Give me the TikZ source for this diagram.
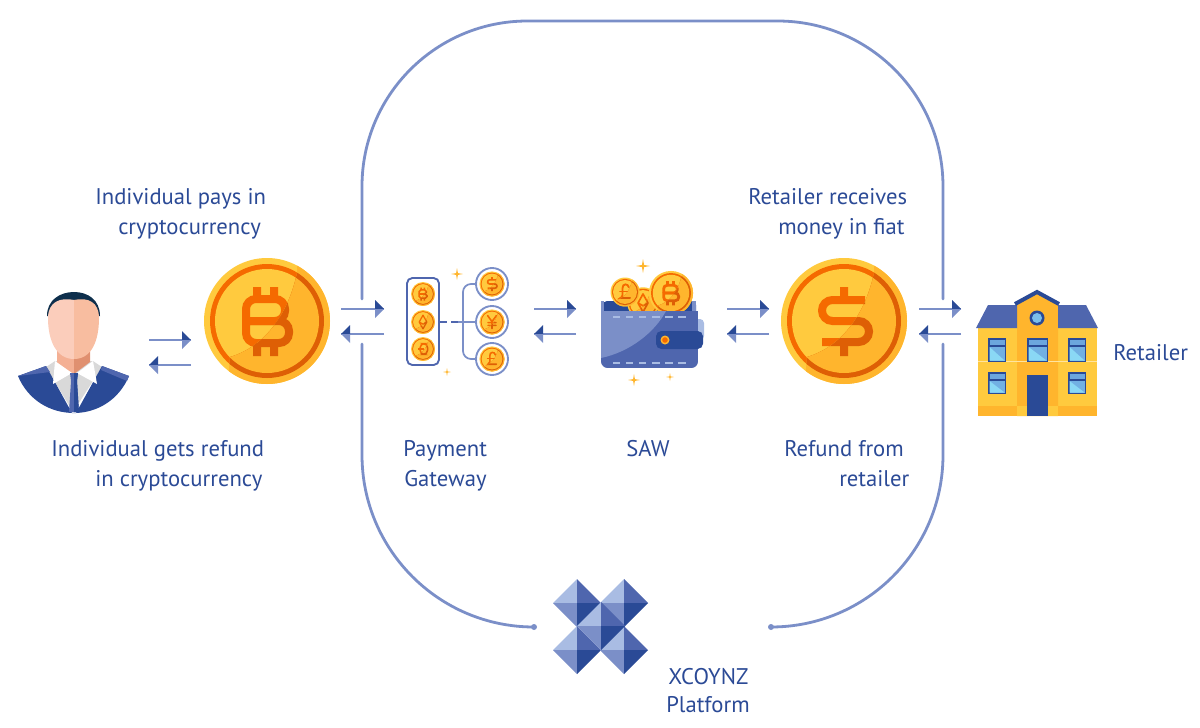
\documentclass[tikz,border=0pt]{standalone}
\usepackage{fontspec}
\setmainfont{PT Sans}
\definecolor{navy}{HTML}{2A4A96}
\definecolor{midblue}{HTML}{4F66AE}
\definecolor{softblue}{HTML}{7B8FC8}
\definecolor{paleblue}{HTML}{A9BCE3}
\definecolor{txt}{HTML}{2B4A96}
\definecolor{yel}{HTML}{FFCA3E}
\definecolor{yeld}{HTML}{FFB52D}
\definecolor{org}{HTML}{F56A00}
\definecolor{orgd}{HTML}{DE5F05}
\definecolor{hair}{HTML}{0E2F4C}
\definecolor{skinl}{HTML}{FBCDBB}
\definecolor{skinr}{HTML}{F8BDA0}
\definecolor{neckl}{HTML}{F4B094}
\definecolor{neckr}{HTML}{E09070}
\definecolor{glass}{HTML}{8AD8F5}
\definecolor{glassd}{HTML}{6CA6DE}
\tikzset{
  lbl/.style={font=\fontsize{17pt}{18pt}\selectfont,text=txt,anchor=base west,inner sep=0pt},
  platform/.style={draw=softblue,line width=2.1pt,rounded corners=#1,line cap=round},
  flowline/.style={draw=softblue,line width=2.2pt},
  endpoint/.style={fill=softblue,draw=none,circle,minimum size=4.5pt,inner sep=0pt},
}
% coin parts, in units of a coin of radius 63
\newcommand\glyphB{%
  \draw[line width=\cs*6pt,rounded corners=\cs*7.5pt] (-21,0) -- (18,0) -- (18,-22) -- (-21,-22) -- (-21,0);
  \draw[line width=\cs*6pt,rounded corners=\cs*7.5pt] (-21,-2) -- (-21,22) -- (22,22) -- (22,0) -- (-18,0);
  \fill (-14,-34) rectangle (-6,-22) (3,-34) rectangle (11,-22) (-14,22) rectangle (-6,35) (3,22) rectangle (11,35);}
\newcommand\glyphS{%
  \draw[line width=\cs*6pt,rounded corners=\cs*7.8pt] (21,-21) -- (-22,-21) -- (-22,0) -- (25,0) -- (25,21) -- (-22,21);
  \fill (-4,-34) rectangle (4,-21) (-4,21) rectangle (4,35);}
\newcommand\glyphP{%
  \draw[line width=\cs*6pt,line cap=round] (17,-20) .. controls (14,-38) and (-12,-38) .. (-11,-16) -- (-11,14) .. controls (-11,20) and (-15,24) .. (-20,26) -- (22,26);
  \draw[line width=\cs*6pt,line cap=round] (-22,-2) -- (10,-2);}
\newcommand\glyphY{%
  \draw[line width=\cs*6pt,line cap=round] (-22,-32) -- (0,-2) -- (22,-32) (0,-2) -- (0,33) (-20,3) -- (20,3) (-20,17) -- (20,17);}
\newcommand\glyphE{%
  \draw[line width=\cs*5pt,line join=round] (0,-36) -- (20,0) -- (0,36) -- (-20,0) -- cycle (-20,0) -- (0,11) -- (20,0);}
\newcommand\glyphD{%
  \draw[line width=\cs*6pt,rounded corners=\cs*16pt] (-15,-28) -- (24,-28) -- (24,28) -- (-15,28) -- cycle;
  \draw[line width=\cs*6pt] (-26,0) -- (6,0);}
\newcommand\coin[4]{%
  \begin{scope}[shift={(#1,#2)},scale=#3]
    \def\cs{#3}
    \fill[yel] (0,0) circle[radius=63];
    \fill[org] (0,0) circle[radius=57];
    \fill[yel] (0,0) circle[radius=52];
    \begin{scope}[draw=org,fill=org]#4\end{scope}
    \begin{scope}
      \clip (30,-66) -- (30,-48) .. controls (22,-10) and (0,25) .. (-37,36) -- (-40,70) -- (70,70) -- (70,-66) -- cycle;
      \fill[yeld] (0,0) circle[radius=63];
      \fill[orgd] (0,0) circle[radius=57];
      \fill[yeld] (0,0) circle[radius=52];
      \begin{scope}[draw=orgd,fill=orgd]#4\end{scope}
    \end{scope}
  \end{scope}}
\newcommand\sparkle[3]{%
  \fill[yeld] (#1-#3,#2) -- (#1-0.15*#3,#2-0.15*#3) -- (#1,#2-#3) -- (#1+0.15*#3,#2-0.15*#3) -- (#1+#3,#2) -- (#1+0.15*#3,#2+0.15*#3) -- (#1,#2+#3) -- (#1-0.15*#3,#2+0.15*#3) -- cycle;}
\newcommand\pyramid[2]{%
  \begin{scope}[shift={(#1,#2)}]
    \fill[paleblue] (-24,0) -- (0,-24) -- (0,0) -- cycle;
    \fill[midblue] (24,0) -- (0,-24) -- (0,0) -- cycle;
    \fill[softblue] (-24,0) -- (0,24) -- (0,0) -- cycle;
    \fill[navy] (24,0) -- (0,24) -- (0,0) -- cycle;
  \end{scope}}
\newcommand\rarr[2]{%
  \draw[flowline] (#1) -- (#2);
  \fill[navy] (#2) -- ++(-9,-9) -- ++(0,9) -- cycle;
  \fill[softblue] (#2) -- ++(-9,9) -- ++(0,-9) -- cycle;}
\newcommand\larr[2]{%
  \draw[flowline] (#1) -- (#2);
  \fill[navy] (#2) -- ++(9,-9) -- ++(0,9) -- cycle;
  \fill[softblue] (#2) -- ++(9,9) -- ++(0,-9) -- cycle;}
\newcommand\winda[4]{% window x0 y0 x1 y1
  \fill[navy] (#1,#2) rectangle (#3,#4);
  \fill[glassd] (#1+1.5,#2+1.5) rectangle (#3-1.5,#2+7);
  \fill[glassd!80!glass] (#1+1.5,#2+9) rectangle (#3-1.5,#4-1.5);
  \fill[glass] (#1+1.5,#2+9) -- (#3-1.5,#4-1.5) -- (#1+1.5,#4-1.5) -- cycle;}
\begin{document}
\begin{tikzpicture}[x=0.75pt,y=-0.75pt]
\useasboundingbox (0,0) rectangle (1200,728);
% ---- platform outline
\coordinate (tl) at (362,21);
\coordinate (tr) at (943,21);
\coordinate (lu) at (362,299);
\coordinate (ll) at (362,344);
\coordinate (ru) at (943,299);
\coordinate (rl) at (943,344);
\coordinate (bl) at (362,627);
\coordinate (br) at (943,627);
\node[endpoint] (pl) at (534,627) {};
\node[endpoint] (pr) at (771,627) {};
\draw[platform=124pt] (lu) -- (tl) -- (tr) -- (ru);
\draw[platform=129pt] (ll) -- (bl) -- (pl.center);
\draw[platform=129pt] (rl) -- (br) -- (pr.center);
% ---- arrows
\foreach \n/\xa/\xb/\ya/\yb in {a/149/191/340/365,b/341/384/309/334,c/534/576/309/334,d/727/769/309/334,e/919/961/309/334}{
  \coordinate (\n1) at (\xa,\ya);
  \coordinate (\n2) at (\xb,\ya);
  \coordinate (\n3) at (\xb,\yb);
  \coordinate (\n4) at (\xa,\yb);
  \rarr{\n1}{\n2}
  \larr{\n3}{\n4}
}
% ---- person
\fill[lightgray!60] (46,367) -- (55,361) -- (93,361) -- (102,367) -- (73,412) -- cycle;
\fill[navy] (18,376) -- (46,366) -- (72,413) -- (76,413) -- (102,366) -- (129,376) .. controls (119,400) and (97,413) .. (74,413) .. controls (50,413) and (28,400) .. (18,376) -- cycle;
\fill[midblue] (18,376) -- (46,366) -- (50,372) -- cycle;
\fill[midblue] (129,376) -- (102,366) -- (101,370) -- (127,381) -- cycle;
\fill[neckl] (57,345) rectangle (74,373);
\fill[neckr] (74,345) -- (90,345) -- (90,362) -- (74,374) -- cycle;
\fill[white] (55,361) -- (53,384) -- (72,373) -- cycle;
\fill[white] (93,361) -- (97,384) -- (77,373) -- cycle;
\fill[midblue] (70,373) -- (78,373) -- (77,381) -- (79,412) -- (69,412) -- (71,381) -- cycle;
\fill[navy] (74,373) -- (78,373) -- (77,381) -- (79,412) -- (74,412) -- cycle;
\fill[hair] (47,316) .. controls (47,300) and (60,292) .. (74,292) .. controls (88,292) and (100,300) .. (100,316) -- cycle;
\fill[skinl] (74,300) .. controls (60,297) and (48,302) .. (48,318) .. controls (48,340) and (56,359) .. (74,359) -- cycle;
\fill[skinr] (74,300) .. controls (88,297) and (99,302) .. (99,318) .. controls (99,340) and (92,359) .. (74,359) -- cycle;
% ---- coins
\coin{267}{321}{1}{\glyphB}
\coin{844}{321}{1}{\glyphS}
% ---- payment gateway
\draw[midblue,line width=1.4pt,rounded corners=4pt] (407,278) rectangle (439,365);
\coin{423}{294}{0.19}{\glyphB}
\coin{423}{322}{0.19}{\glyphE}
\coin{423}{349}{0.19}{\glyphD}
\draw[softblue,line width=1.3pt,rounded corners=6pt] (477,284) -- (463,284) -- (463,359) -- (477,359);
\draw[softblue,line width=1.3pt] (458,322) -- (476,322);
\draw[midblue,line width=1.3pt,dash pattern=on 6pt off 3pt] (439,322) -- (458,322);
\foreach \yy/\g in {284/\glyphS,322/\glyphY,359/\glyphP}{
  \fill[white] (492,\yy) circle[radius=16];
  \draw[softblue,line width=1.4pt] (492,\yy) circle[radius=16];
  \coin{492}{\yy}{0.2}{\g}
}
\sparkle{457}{274}{6}
\sparkle{447}{372}{4}
% ---- wallet
\fill[paleblue,rounded corners=3pt] (690,319) rectangle (704,340);
\fill[navy,rounded corners=3pt] (603,301) rectangle (696,320);
\fill[softblue] (692,301) rectangle (696,311);
\coin{643}{303}{0.25}{\glyphE}
\coin{625}{292}{0.23}{\glyphP}
\coin{671}{293}{0.35}{\glyphB}
\begin{scope}
  \clip[rounded corners=5pt] (601,290) rectangle (698,368);
  \fill[midblue] (601,311) rectangle (698,368);
  \fill[softblue] (601,311) -- (666,311) .. controls (655,332) and (630,352) .. (601,358) -- cycle;
  \fill[softblue] (601,301) rectangle (604,311);
\end{scope}
\draw[paleblue,line width=1.5pt,dash pattern=on 5.5pt off 4.3pt] (613,317) -- (688,317);
\draw[paleblue,line width=1.5pt,dash pattern=on 5.5pt off 4.3pt] (613,363) -- (688,363);
\fill[navy,rounded corners=4pt] (656,331) rectangle (703,349);
\fill[yeld] (665,340) circle[radius=4.5];
\fill[org] (665,340) circle[radius=2.8];
\sparkle{643}{266}{7}
\sparkle{634}{380}{6}
\sparkle{670}{377}{4}
% ---- retailer building
\fill[yel] (978,327) rectangle (1097,416);
\fill[yeld] (978,406) rectangle (1097,416);
\fill[yeld] (1017,303) -- (1037,292) -- (1058,303) -- (1058,416) -- (1017,416) -- cycle;
\fill[yel] (1017,406) rectangle (1058,416);
\fill[midblue] (976,328) -- (988,305) -- (1017,305) -- (1017,328) -- cycle;
\fill[midblue] (1058,305) -- (1086,305) -- (1098,328) -- (1058,328) -- cycle;
\draw[navy,line width=3pt] (1015,304) -- (1037,292) -- (1059,304);
\fill[navy] (1037,318) circle[radius=7.5];
\fill[glassd!50!glass] (1037,318) circle[radius=5];
\draw[yel!50!white,line width=0.5pt] (978,361) -- (1097,361);
\winda{988}{338}{1006}{362}
\winda{1027}{338}{1048}{362}
\winda{1068}{338}{1086}{362}
\winda{988}{372}{1006}{394}
\winda{1068}{372}{1086}{394}
\fill[navy] (1027,375) rectangle (1048,416);
% ---- XCOYNZ logo
\pyramid{577}{603}
\pyramid{624}{603}
\pyramid{577}{650}
\pyramid{624}{650}
\pyramid{601}{626}
% ---- labels
\node[lbl] (t1) at (95,204) {Individual pays in};
\node[lbl] (t2) at (118,234) {cryptocurrency};
\node[lbl] (t3) at (51,456) {Individual gets refund};
\node[lbl] (t4) at (95,486) {in cryptocurrency};
\node[lbl] (t5) at (403,456) {Payment};
\node[lbl] (t6) at (404,486) {Gateway};
\node[lbl] (t7) at (626,456) {SAW};
\node[lbl] (t8) at (784,456) {Refund from};
\node[lbl] (t9) at (839,486) {retailer};
\node[lbl] (t10) at (748,204) {Retailer receives};
\node[lbl] (t11) at (778,234) {money in fiat};
\node[lbl] (t12) at (1113,360) {Retailer};
\node[lbl] (t13) at (668,684) {XCOYNZ};
\node[lbl] (t14) at (666,712) {Platform};
\end{tikzpicture}
\end{document}
